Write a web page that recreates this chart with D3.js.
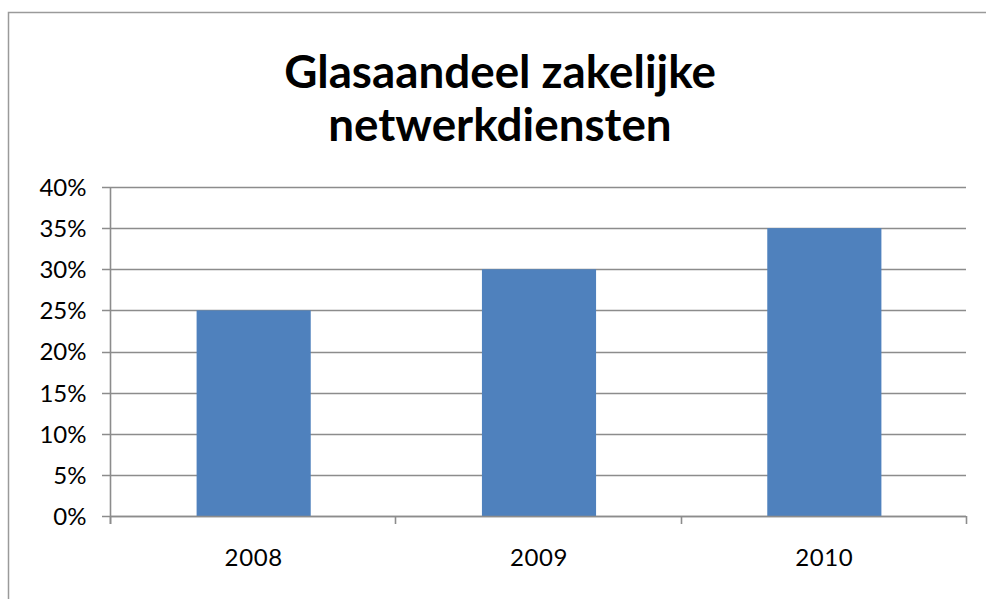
<!DOCTYPE html>
<html>
<head>
<meta charset="utf-8">
<script src="https://cdn.jsdelivr.net/npm/d3@7"></script>
<style>
  html, body { margin: 0; padding: 0; background: #fff; }
  svg { display: block; }
</style>
</head>
<body>
<svg id="chart" width="986" height="599"></svg>
<script>
const titleLines = ["Glasaandeel zakelijke", "netwerkdiensten"];
const categories = ["2008", "2009", "2010"];
const values = [0.25, 0.30, 0.35];
const yTicks = [0, 0.05, 0.10, 0.15, 0.20, 0.25, 0.30, 0.35, 0.40];

const svg = d3.select("#chart");
const plot = { left: 110, right: 966, top: 187, bottom: 516 };
const fontFamily = "Lato, 'Open Sans', 'DejaVu Sans', sans-serif";

// outer chart border
svg.append("rect")
  .attr("x", 8.5).attr("y", 12.5)
  .attr("width", 1000).attr("height", 620)
  .attr("fill", "#fff")
  .attr("stroke", "#9a9a9a").attr("stroke-width", 1.5);

// title
const title = svg.append("g");
titleLines.forEach((t, i) => {
  title.append("text")
    .attr("x", 500).attr("y", 88 + i * 53)
    .attr("text-anchor", "middle")
    .attr("font-family", fontFamily)
    .attr("font-weight", "bold")
    .attr("font-size", 40)
    .attr("fill", "#000")
    .text(t);
});
const first = title.select("text").node();
const len = first.getComputedTextLength();
if (len > 0) {
  const fs = 40 * 432 / len;
  title.selectAll("text").attr("font-size", fs);
}

const x = d3.scaleBand().domain(categories).range([plot.left, plot.right]).paddingInner(0.6).paddingOuter(0.3);
const y = d3.scaleLinear().domain([0, 0.40]).range([plot.bottom, plot.top]);

// gridlines
svg.append("g").selectAll("line")
  .data(yTicks)
  .join("line")
  .attr("x1", plot.left - 8).attr("x2", plot.right)
  .attr("y1", d => Math.round(y(d)) + 0.5).attr("y2", d => Math.round(y(d)) + 0.5)
  .attr("stroke", "#8c8c8c").attr("stroke-width", 1.6);

// bars
svg.append("g").selectAll("rect")
  .data(values)
  .join("rect")
  .attr("x", (d, i) => x(categories[i]) + 1)
  .attr("width", x.bandwidth())
  .attr("y", d => y(d))
  .attr("height", d => y(0) - y(d))
  .attr("fill", "#4f81bd");

// y axis
const yAxis = d3.axisLeft(y).tickValues(yTicks).tickFormat(d3.format(".0%")).tickSize(8).tickPadding(16);
const gy = svg.append("g").attr("transform", `translate(${plot.left + 0.5},0)`).call(yAxis);
gy.select(".domain").attr("stroke", "#8c8c8c").attr("stroke-width", 1.6).attr("d", `M0,${plot.top}V${plot.bottom + 8}`);
gy.selectAll(".tick line").remove();
gy.selectAll("text")
  .attr("font-family", fontFamily)
  .attr("font-size", 24)
  .attr("fill", "#000")
  .attr("dy", "0.35em");

// x axis
const xEdges = d3.range(categories.length + 1).map(i => plot.left + i * x.step());
svg.append("line")
  .attr("x1", plot.left).attr("x2", plot.right)
  .attr("y1", plot.bottom + 0.5).attr("y2", plot.bottom + 0.5)
  .attr("stroke", "#8c8c8c").attr("stroke-width", 1.6);
svg.append("g").selectAll("line")
  .data(xEdges)
  .join("line")
  .attr("x1", d => Math.round(d) + 0.5).attr("x2", d => Math.round(d) + 0.5)
  .attr("y1", plot.bottom).attr("y2", plot.bottom + 8)
  .attr("stroke", "#8c8c8c").attr("stroke-width", 1.6);
const xAxis = d3.axisBottom(x).tickSize(0).tickPadding(0);
const gx = svg.append("g").attr("transform", `translate(1,${plot.bottom})`).call(xAxis);
gx.select(".domain").remove();
gx.selectAll("text")
  .attr("font-family", fontFamily)
  .attr("font-size", 24)
  .attr("letter-spacing", "0.6px")
  .attr("fill", "#000")
  .attr("y", 0)
  .attr("dy", 50);
</script>
</body>
</html>
